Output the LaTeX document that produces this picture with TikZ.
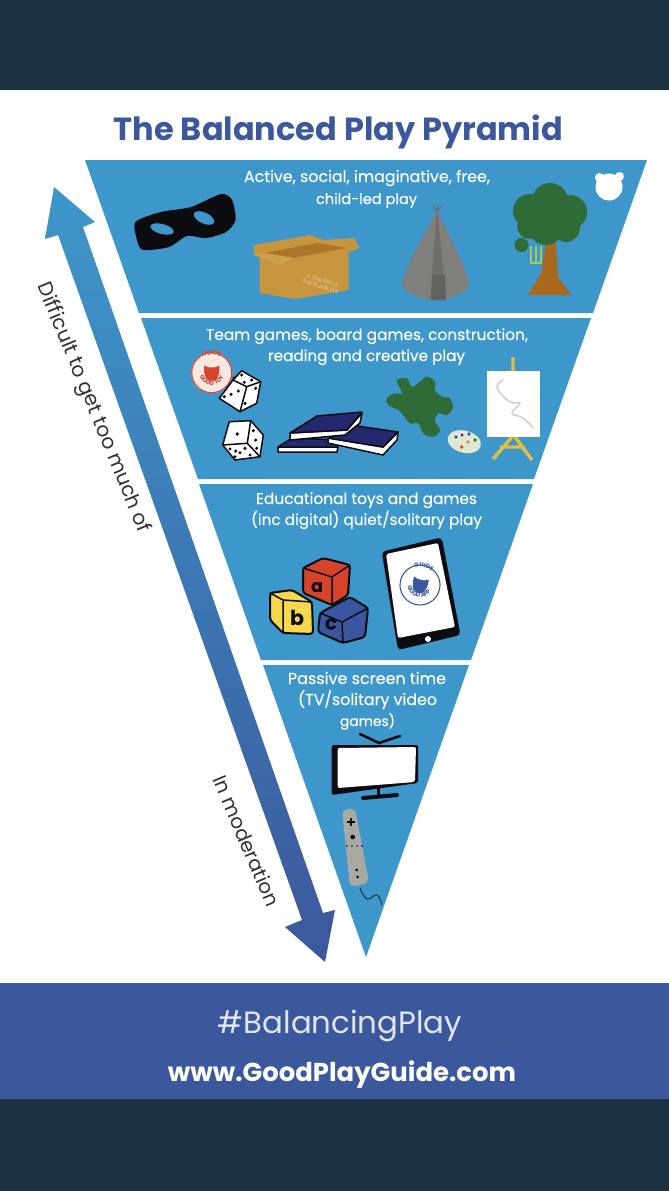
\documentclass[tikz,border=0pt]{standalone}
\usepackage{graphicx}
\usepackage{fontspec}
\usetikzlibrary{decorations.text}
\setmainfont{Poppins}
\setsansfont{Poppins}
\newfontfamily\popm[FakeBold=0.3]{Poppins}
\newcommand{\fitw}[2]{\resizebox{#1pt}{!}{#2}}
\definecolor{darkbar}{HTML}{1B3140}
\definecolor{pyr}{HTML}{3D97CB}
\definecolor{deep}{HTML}{3C589C}
\definecolor{arrowmid}{HTML}{3384BE}
\definecolor{sidetext}{HTML}{2F3236}
\definecolor{leaf}{HTML}{2E6B37}
\definecolor{card}{HTML}{C8953F}
\definecolor{cardlight}{HTML}{CFA04A}
\definecolor{carddark}{HTML}{A9762A}
\definecolor{tent}{HTML}{807F7C}
\definecolor{tentdark}{HTML}{6E6E6A}
\definecolor{tentdoor}{HTML}{62625E}
\definecolor{bark}{HTML}{A8691E}
\definecolor{swing}{HTML}{A6C85C}
\definecolor{navy}{HTML}{23286F}
\definecolor{redbadge}{HTML}{D6452B}
\definecolor{badgefill}{HTML}{F5E8E2}
\definecolor{easel}{HTML}{DFC040}
\definecolor{squig}{HTML}{CFCFCD}
\definecolor{palet}{HTML}{DFE8D0}
\definecolor{blockred}{HTML}{D6432B}
\definecolor{blockyel}{HTML}{F6D84F}
\definecolor{blockblu}{HTML}{3B56A0}
\definecolor{wii}{HTML}{A9A9A4}
\definecolor{ink}{HTML}{0B0B10}
\tikzset{
  tier/.style={fill=pyr,draw=none},
  tierlabel/.style={anchor=base,inner sep=0pt,outer sep=0pt,text=white,font=\popm},
  sidelabel/.style={inner sep=0pt,outer sep=0pt,text=sidetext,font=\sffamily},
  outl/.style={draw=ink,line width=1.5pt,line join=round},
  blockout/.style={draw=ink,line width=2pt,line join=round,rounded corners=3pt},
  inkline/.style={draw=ink,line width=1.5pt,line cap=round},
  blockletter/.style={inner sep=0pt,text=ink,font=\bfseries}
}
\newcommand{\badgering}[7]{% x,y,rot,colour,top,bottom,fill
  \begin{scope}[shift={(#1,#2)},rotate=#3]
    \fill[#7] (0,0) circle (20.5pt);
    \draw[#4,line width=1.1pt] (0,0) circle (20pt);
    \fill[#4] plot[smooth cycle,tension=0.55] coordinates{(-7.5,-7)(-4,-5.5)(4,-5.5)(7.5,-7)(7,2)(4,7)(0,8)(-4,7)(-7,2)};
    \path[decorate,decoration={text along path,text align=center,text={|\color{#4}\fontsize{6}{6}\selectfont\bfseries|#5}}] (-12.5,0) arc (180:360:12.5pt);
    \path[decorate,decoration={text along path,text align=center,text={|\color{#4}\fontsize{6}{6}\selectfont\bfseries|#6}}] (-18,0) arc (180:90:18pt) arc (90:0:18pt);
  \end{scope}}
\begin{document}
\begin{tikzpicture}[x=1pt,y=-1pt]
\useasboundingbox (0,0) rectangle (669,1191);
% page bands
\fill[white] (0,0) rectangle (669,1191);
\fill[darkbar] (0,0) rectangle (669,90);
\fill[deep] (0,983) rectangle (669,1099);
\fill[darkbar] (0,1099) rectangle (669,1191);
% pyramid tiers
\fill[tier] (85,160) -- (647,160) -- (593,313) -- (139,313) -- cycle;
\fill[tier] (141,318) -- (591,318) -- (534,479) -- (198,479) -- cycle;
\fill[tier] (199,484) -- (533,484) -- (471,660) -- (261,660) -- cycle;
\fill[tier] (263,665) -- (469,665) -- (366,957) -- cycle;
% long arrow
\shade[top color=pyr,middle color=arrowmid,bottom color=deep,shading angle=0]
  (54,187) -- (95,222) -- (83,227) -- (323,913) -- (335,910) -- (325,962) -- (285,927) -- (302,920) -- (58,235) -- (45,239) -- cycle;
% title and footer
\node[anchor=base,inner sep=0pt,text=deep,font=\bfseries] (title) at (338.5,140) {\fitw{449}{The Balanced Play Pyramid}};
\node[anchor=base,inner sep=0pt,text=white!85!deep] (hash) at (340,1033) {\fitw{244}{\#BalancingPlay}};
\node[anchor=base,inner sep=0pt,text=white,font=\bfseries] (url) at (342,1081) {\fitw{348}{www.GoodPlayGuide.com}};
% tier labels
\node[tierlabel] (t1a) at (367,182) {\fitw{246}{Active, social, imaginative, free,}};
\node[tierlabel] (t1b) at (366.5,204) {\fitw{101}{child-led play}};
\node[tierlabel] (t2a) at (367,340) {\fitw{322}{Team games, board games, construction,}};
\node[tierlabel] (t2b) at (366.5,361) {\fitw{197}{reading and creative play}};
\node[tierlabel] (t3a) at (366.5,504) {\fitw{221}{Educational toys and games}};
\node[tierlabel] (t3b) at (366.5,525) {\fitw{231}{(inc digital) quiet/solitary play}};
\node[tierlabel] (t4a) at (367,684) {\fitw{158}{Passive screen time}};
\node[tierlabel] (t4b) at (367.5,705) {\fitw{139}{(TV/solitary video}};
\node[tierlabel] (t4c) at (367.5,726) {\fitw{55}{games)}};
% side labels
\node[sidelabel,rotate=-67.7] (difficult) at (93,408) {\fitw{268}{Difficult to get too much of}};
\node[sidelabel,rotate=-67] (moderation) at (247,841) {\fitw{140}{In moderation}};
% mask
\fill[ink] plot[smooth cycle,tension=0.45] coordinates{(135.5,222)(161,212)(191,207)(221,194)(232,200)(235.5,220)(226,232)(206,238)(187,236)(169,247)(143,250)(137,240)};
\fill[pyr,rotate around={-15:(162,229)}] (162,229) ellipse (12pt and 5pt);
\fill[pyr,rotate around={-25:(204,218)}] (204,218) ellipse (11pt and 5.5pt);
% cardboard box
\fill[card] (254,245) -- (309.6,235) -- (324,240) -- (354,238) -- (359.6,248) -- (348,252) -- (296,266) -- (254,255) -- cycle;
\fill[carddark] (265,253) -- (317,243) -- (347,248) -- (293,258) -- cycle;
\fill[card] (259.6,256.7) -- (296.7,265) -- (348.5,250) -- (348.5,290) -- (295,299) -- (259.6,293) -- cycle;
\fill[cardlight] (254,255) -- (265,253) -- (293,258) -- (280,265) -- cycle;
\node[inner sep=0pt,rotate=-17,text=white!55!card,font=\fontsize{5.5}{6}\selectfont,align=center] (boxmark) at (321,284) {© The Good\\Toy Guide Ltd};
% tipi
\draw[tentdark,line width=1pt] (437,212) -- (433,205) (437,212) -- (442,205) (437,212) -- (437,204);
\fill[tent] (437,210) .. controls (425,235) and (405,265) .. (402,285) .. controls (405,293) and (422,300) .. (436,300) .. controls (450,300) and (466,293) .. (469,285) .. controls (466,265) and (448,235) .. (437,210) -- cycle;
\fill[tentdark] (437,210) -- (444,275) -- (446,300) -- (431,300) -- (432,275) -- cycle;
\fill[tentdoor] (432,275) -- (445,275) -- (446,300) -- (431,300) -- cycle;
% tree
\fill[bark] (546,243) -- (556,243) -- (558,277) -- (571,295) -- (528,295) -- (541,273) -- cycle;
\fill[leaf] (550,201) circle (18pt) (530,211) circle (17pt) (570,212) circle (17pt) (546,228) circle (17pt) (566,228) circle (14pt) (530,226) circle (13pt) (521.5,245) circle (7pt);
\draw[swing,line width=1.3pt] (531,246) -- (531,264) (536,246) -- (536,264) (541,246) -- (541,264) (530,263) -- (542,263);
% bear logo
\fill[white] (609,187) circle (13.5pt) (599.5,177.5) circle (4.5pt) (619.5,176.5) circle (4.5pt);
% badge good toy
\badgering{211.7}{372.7}{0}{redbadge}{GOOD TOY}{GUIDE}{badgefill}
% upper die
\fill[white,outl] (241.7,370.7) -- (260.7,381.7) -- (256.7,403.3) -- (240,411.7) -- (219.3,398.3) -- (233,380) -- cycle;
\draw[inkline] (246.7,386.7) -- (233,380) (246.7,386.7) -- (260.7,381.7) (246.7,386.7) -- (240,411.7);
\fill[ink] (234,378) circle (1.7pt) (241.7,375) circle (1.7pt) (244.3,382.3) circle (1.7pt) (251.7,380) circle (1.7pt)
  (224.3,396.7) circle (1.7pt) (231,394.3) circle (1.7pt) (238.3,391) circle (1.7pt)
  (255.7,388.3) circle (1.7pt) (245,403.3) circle (1.7pt);
% lower die
\fill[white,outl] (229.3,421.7) -- (250.7,420.7) -- (263.3,435) -- (260,456.7) -- (235,460) -- (222.7,445) -- cycle;
\draw[inkline] (247.3,443.3) -- (250.7,420.7) (247.3,443.3) -- (222.7,445) (247.3,443.3) -- (260,456.7);
\fill[ink] (237.3,434) circle (1.9pt)
  (253.3,430.7) circle (1.7pt) (255.7,440) circle (1.7pt) (256.7,448.3) circle (1.7pt)
  (230,449) circle (1.7pt) (245,448.3) circle (1.7pt) (240,452.7) circle (1.7pt) (250,455) circle (1.7pt) (235,456.7) circle (1.7pt) (235.7,451) circle (1.7pt);
% books
\fill[white,outl] (278,447) -- (338,447) -- (337,452) -- (278,452) -- cycle;
\fill[navy,outl] (278,447) -- (292,438) -- (340,440) -- (338,447) -- cycle;
\fill[white,outl] (328,438) -- (383,447) -- (398,432) -- (397,440) -- (383,455) -- (328,443) -- cycle;
\fill[navy,outl] (328,438) -- (357,426) -- (398,432) -- (383,447) -- cycle;
\fill[white,outl] (290,433) -- (347,430) -- (362,413) -- (360,423) -- (345,435) -- (290,440) -- cycle;
\fill[navy,outl] (290,433) -- (317,416) -- (362,412) -- (347,430) -- cycle;
% puzzle piece
\fill[leaf] plot[smooth cycle,tension=0.6] coordinates{(396.7,380)(406.7,378.3)(411.7,386.7)(420,381.7)(426.7,376.7)(435,381.7)(435,390)(441.7,396.7)(450,398.3)(452.7,408.3)(446.7,415)(438.3,413.3)(435,421.7)(440,430)(433.3,436.7)(423.3,433.3)(418.3,423.3)(410,423.3)(403.3,415)(398.3,410)(388.3,405)(386.7,398.3)(395,393.3)(401.7,393.3)(398.3,385)};
% palette
\fill[palet,rotate around={-15:(464.3,441.7)}] (464.3,441.7) ellipse (17pt and 11pt);
\fill[blockblu] (456,437) circle (1.8pt) (469,434) circle (1.8pt);
\fill[redbadge] (461.7,447) circle (1.8pt);
\fill[card] (468,442) circle (1.8pt);
\fill[leaf] (475,440) circle (1.8pt);
\fill[violet] (462,435) circle (1.6pt);
% easel
\draw[easel,line width=3.4pt] (513,357) -- (513,372) (512,437) -- (493,459) (515,437) -- (532,460) (500,447) -- (525,447);
\fill[white] (487,371) rectangle (539.5,437);
\draw[squig,line width=1.5pt,line cap=round] plot[smooth,tension=0.7] coordinates{(503,380)(497,388)(510,402)(520,403)(512,413)(523,418)(533,428)};
% blocks
\fill[blockblu,blockout] (320,613) -- (350,597) -- (368,608) -- (365,637) -- (343,643) -- (318,632) -- cycle;
\draw[inkline] (342,622) -- (320,613) (342,622) -- (368,608) (342,622) -- (343,643);
\node[blockletter,rotate=-5] (letterc) at (331,625) {\fitw{12}{c}};
\fill[blockred,blockout] (303,568) -- (323,558) -- (350,565) -- (348,595) -- (332,605) -- (303,593) -- cycle;
\draw[inkline] (332,577) -- (303,568) (332,577) -- (350,565) (332,577) -- (332,605);
\node[blockletter] (lettera) at (317,588) {\fitw{12}{a}};
\fill[blockyel,blockout] (270,593) -- (292,590) -- (312,602) -- (313,634) -- (283,633) -- (270,620) -- cycle;
\draw[inkline] (283,600) -- (270,593) (283,600) -- (312,602) (283,600) -- (283,633);
\node[blockletter] (letterb) at (297,618) {\fitw{14}{b}};
% tablet
\fill[ink,rounded corners=4pt] (381.7,551.7) -- (441.7,537.3) -- (460.5,635) -- (398,650) -- cycle;
\fill[white,rounded corners=2pt] (386,554) -- (438,543) -- (455,627) -- (398,638) -- cycle;
\fill[white] (428,639) circle (3pt);
\badgering{420}{585}{-12}{deep}{GOOD APP}{GUIDE}{white}
% tv
\draw[ink,line width=2.6pt,line cap=round] (360,734) -- (379,743) -- (400,736);
\draw[ink,line width=3pt] (378,788) -- (378,797);
\draw[ink,line width=4pt,line cap=round] (363,798) -- (397,795);
\fill[ink,rounded corners=2pt] (331.7,745) -- (418,745) -- (418,783) -- (331.7,795) -- cycle;
\fill[white,rounded corners=2pt] (337.7,748) -- (416,747) -- (415,782) -- (337.7,788) -- cycle;
% remote
\draw[ink!75!pyr,line width=1pt] plot[smooth,tension=0.8] coordinates{(360,888)(367,899)(377,895)(382,905)};
\fill[wii,rounded corners=5pt] (342,810) -- (355,808) -- (369,883) -- (350,887) -- cycle;
\draw[ink,line width=2.3pt] (347,822) -- (355,822) (351,818) -- (351,826);
\fill[ink] (352.7,837) circle (2.3pt) (356.7,870) circle (1.5pt) (357.7,877) circle (1.5pt);
\fill[ink] (347,846) circle (.9pt) (352,846) circle (.9pt) (357,846) circle (.9pt) (362,846) circle (.9pt);
\end{tikzpicture}
\end{document}
